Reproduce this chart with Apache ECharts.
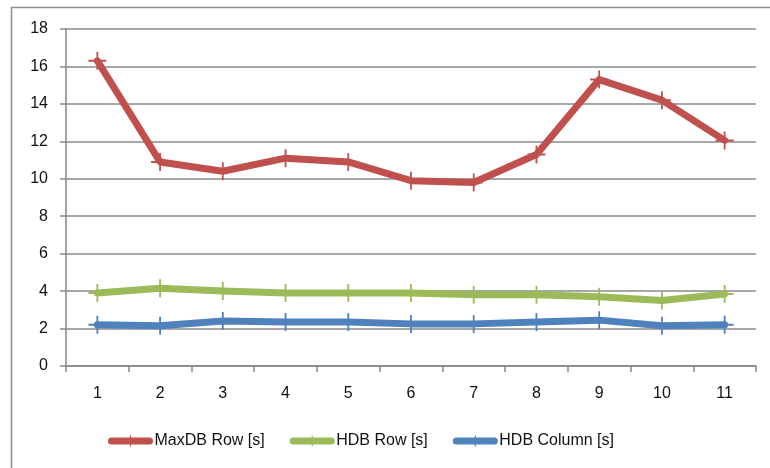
<!DOCTYPE html>
<html>
<head>
<meta charset="utf-8">
<script src="https://cdn.jsdelivr.net/npm/echarts@6/dist/echarts.min.js"></script>
<style>html,body{margin:0;padding:0;background:#fff}#c{width:770px;height:468px}</style>
</head>
<body>
<div id="c"></div>
<script>
var categories = ['1','2','3','4','5','6','7','8','9','10','11'];
var maxdbRow = [16.3, 10.9, 10.4, 11.1, 10.9, 9.9, 9.8, 11.3, 15.3, 14.2, 12.05];
var hdbRow = [3.9, 4.15, 4.0, 3.9, 3.9, 3.9, 3.8, 3.8, 3.7, 3.5, 3.85];
var hdbColumn = [2.2, 2.15, 2.4, 2.35, 2.35, 2.25, 2.25, 2.35, 2.45, 2.15, 2.2];
var seriesNames = ['MaxDB Row [s]', 'HDB Row [s]', 'HDB Column [s]'];
var colors = ['#C0504D', '#9BBB59', '#4F81BD'];

var plus = 'path://M9,0 L11,0 L11,8 L20,8 L20,10 L11,10 L11,18 L9,18 L9,10 L0,10 L0,8 L9,8 Z';
var font = 'Liberation Sans';
var chart = echarts.init(document.getElementById('c'), null, {renderer: 'canvas'});
function mk(name, data, color) {
  return {
    name: name, type: 'line', data: data,
    symbol: plus, symbolSize: [18, 18], showSymbol: true,
    lineStyle: {width: 7, color: color, cap: 'round', join: 'round'},
    itemStyle: {color: color},
    emphasis: {disabled: true}, animation: false
  };
}
chart.setOption({
  animation: false,
  textStyle: {fontFamily: font},
  graphic: [{
    type: 'rect', shape: {x: 11.5, y: 7.5, width: 800, height: 520},
    style: {fill: 'none', stroke: '#8c8c8c', lineWidth: 1.5}, silent: true, z: -1
  }],
  grid: {left: 66, right: 14, top: 29, bottom: 102},
  legend: {
    left: 103, top: 428, itemWidth: 38, itemHeight: 14, itemGap: 25,
    lineStyle: {width: 7, cap: 'round'},
    textStyle: {fontSize: 16, color: '#111', fontFamily: font},
    data: seriesNames
  },
  xAxis: {
    type: 'category', data: categories, boundaryGap: true,
    axisLine: {lineStyle: {color: '#868686', width: 1.5}},
    axisTick: {show: true, interval: 0, length: 6, lineStyle: {color: '#868686', width: 1.5}},
    axisLabel: {margin: 20, fontSize: 16, color: '#111', fontFamily: font, interval: 0},
    splitLine: {show: false}
  },
  yAxis: {
    type: 'value', min: 0, max: 18, interval: 2,
    axisLine: {show: true, lineStyle: {color: '#868686', width: 1.5}},
    axisTick: {show: true, length: 6, lineStyle: {color: '#868686', width: 1.5}},
    axisLabel: {margin: 18, fontSize: 16, color: '#111', fontFamily: font},
    splitLine: {show: true, lineStyle: {color: '#8a8a8a', width: 1.5}}
  },
  series: [
    mk(seriesNames[0], maxdbRow, colors[0]),
    mk(seriesNames[1], hdbRow, colors[1]),
    mk(seriesNames[2], hdbColumn, colors[2])
  ]
});
</script>
</body>
</html>
